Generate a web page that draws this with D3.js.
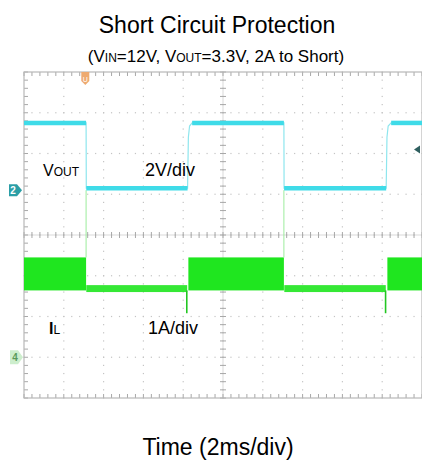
<!DOCTYPE html>
<html>
<head>
<meta charset="utf-8">
<script src="https://cdn.jsdelivr.net/npm/d3@7"></script>
<style>
  html, body { margin: 0; padding: 0; background: #fff; }
  svg text { font-family: "Liberation Sans", Arial, sans-serif; fill: #000; }
</style>
</head>
<body>
<svg id="chart" width="422" height="461"></svg>
<script>
// time in ms (2 ms/div), Vout in V (2 V/div), IL in A (1 A/div)
const voutTime = [0, 3.12, 3.13, 8.22, 8.26, 8.32, 8.45, 13.06, 13.07, 18.2, 18.24, 18.3, 18.45, 20];
const voutVal  = [3.3, 3.3, 0.1, 0.1, 2.6, 3.15, 3.3, 3.3, 0.1, 0.1, 2.6, 3.15, 3.3, 3.3];

// inductor current envelope (switching ripple band) while running
const ilRunTime = [[0, 3.12], [8.26, 13.06], [18.26, 20]];
const ilRunHigh = 2.45;
const ilRunLow = 1.64;

// inductor current during short (hiccup)
const ilShortTime = [3.13, 8.2, 13.08, 18.18];
const ilShortHigh = [1.77, 1.78, 1.77, 1.78];
const ilShortLow = [1.6, 1.6, 1.6, 1.6];
const ilSpikeTime = [8.18, 18.17];
const ilSpikeMin = [1.08, 1.08];
const ilStepTime = [3.12, 13.06];
const ilStepMax = [4.1, 4.1];

const voutOffsetDiv = 1.1;   // ch2 ground marker
const ilOffsetDiv = -3;      // ch4 ground marker

const svg = d3.select('#chart');
const pLeft = 24, pRight = 422, pTop = 72, pBottom = 398;

const x = d3.scaleLinear().domain([0, 20]).range([pLeft, pRight]);
const y = d3.scaleLinear().domain([-4, 4]).range([pBottom, pTop]);
const yV = (v) => y(v / 2 + voutOffsetDiv);
const yI = (a) => y(a / 1 + ilOffsetDiv);

// titles
svg.append('text').attr('x', 217).attr('y', 33).attr('text-anchor', 'middle')
  .style('font-size', '23px').text('Short Circuit Protection');

const sub = svg.append('text').attr('x', 216).attr('y', 62).attr('text-anchor', 'middle')
  .style('font-size', '17px');
sub.append('tspan').text('(V');
sub.append('tspan').style('font-size', '12px').text('IN');
sub.append('tspan').text('=12V, V');
sub.append('tspan').style('font-size', '12px').text('OUT');
sub.append('tspan').text('=3.3V, 2A to Short)');

svg.append('text').attr('x', 218).attr('y', 455).attr('text-anchor', 'middle')
  .style('font-size', '23px').text('Time (2ms/div)');

// grid
const grid = svg.append('g');
const xTicks = d3.range(0, 20.01, 2);
const yTicks = d3.range(-4, 4.01, 1);
const xMinor = d3.range(0, 20.01, 0.4);
const yMinor = d3.range(-4, 4.01, 0.2);

xTicks.slice(1, -1).forEach((t) => {
  grid.selectAll(null).data(yMinor).join('rect')
    .attr('x', x(t) - 0.6).attr('y', (d) => y(d) - 0.6)
    .attr('width', 1.2).attr('height', 1.2).attr('fill', '#c4c4c4');
});
yTicks.slice(1, -1).forEach((d) => {
  grid.selectAll(null).data(xMinor).join('rect')
    .attr('x', (t) => x(t) - 0.6).attr('y', y(d) - 0.6)
    .attr('width', 1.2).attr('height', 1.2).attr('fill', '#c4c4c4');
});

// centre cross and frame with minor ticks
grid.append('line').attr('x1', x(10)).attr('x2', x(10)).attr('y1', pTop).attr('y2', pBottom)
  .attr('stroke', '#cfcfcf').attr('stroke-width', 0.8);
grid.append('line').attr('x1', pLeft).attr('x2', pRight).attr('y1', y(0)).attr('y2', y(0))
  .attr('stroke', '#cfcfcf').attr('stroke-width', 0.8);
grid.selectAll(null).data(xMinor).join('line')
  .attr('x1', (t) => x(t)).attr('x2', (t) => x(t))
  .attr('y1', y(0) - 3).attr('y2', y(0) + 3).attr('stroke', '#a8a8a8');
grid.selectAll(null).data(yMinor).join('line')
  .attr('x1', x(10) - 3).attr('x2', x(10) + 3)
  .attr('y1', (d) => y(d)).attr('y2', (d) => y(d)).attr('stroke', '#a8a8a8');
grid.selectAll(null).data(xMinor).join('line')
  .attr('x1', (t) => x(t)).attr('x2', (t) => x(t))
  .attr('y1', pTop).attr('y2', pTop + 4).attr('stroke', '#a8a8a8');
grid.selectAll(null).data(xMinor).join('line')
  .attr('x1', (t) => x(t)).attr('x2', (t) => x(t))
  .attr('y1', pBottom - 4).attr('y2', pBottom).attr('stroke', '#a8a8a8');
grid.selectAll(null).data(yMinor).join('line')
  .attr('x1', pLeft).attr('x2', pLeft + 4)
  .attr('y1', (d) => y(d)).attr('y2', (d) => y(d)).attr('stroke', '#a8a8a8');
grid.append('rect').attr('x', pLeft).attr('y', pTop)
  .attr('width', pRight - pLeft).attr('height', pBottom - pTop)
  .attr('fill', 'none').attr('stroke', '#b8b8b8').attr('stroke-width', 1.2);

// inductor current
const green = '#1fe61f';
const il = svg.append('g');
ilRunTime.forEach(([t0, t1]) => {
  il.append('rect').attr('x', x(t0)).attr('width', x(t1) - x(t0))
    .attr('y', yI(ilRunHigh)).attr('height', yI(ilRunLow) - yI(ilRunHigh))
    .attr('fill', green);
});
ilShortTime.reduce((acc, t, i) => (i % 2 ? acc : acc.concat([[t, ilShortTime[i + 1], i]])), [])
  .forEach(([t0, t1, i]) => {
    il.append('rect').attr('x', x(t0)).attr('width', x(t1) - x(t0))
      .attr('y', yI(ilShortHigh[i])).attr('height', yI(ilShortLow[i]) - yI(ilShortHigh[i]))
      .attr('fill', green).attr('opacity', 0.9);
  });
il.selectAll(null).data(ilSpikeTime).join('line')
  .attr('x1', (t) => x(t)).attr('x2', (t) => x(t))
  .attr('y1', yI(ilRunLow)).attr('y2', (t, i) => yI(ilSpikeMin[i]))
  .attr('stroke', '#22c622').attr('stroke-width', 1.6);
il.selectAll(null).data(ilStepTime).join('line')
  .attr('x1', (t) => x(t)).attr('x2', (t) => x(t))
  .attr('y1', yI(ilRunHigh)).attr('y2', (t, i) => yI(ilStepMax[i]))
  .attr('stroke', '#9cec9c').attr('stroke-width', 1);

// output voltage
const line = d3.line().x((d) => x(d[0])).y((d) => yV(d[1]));
const voutPts = voutTime.map((t, i) => [t, voutVal[i]]);
svg.append('path').attr('d', line(voutPts))
  .attr('fill', 'none').attr('stroke', '#8ee6ee').attr('stroke-width', 1.2);
// flat levels drawn heavier like the scope trace
const flats = voutPts.slice(0, -1).map((p, i) => [p, voutPts[i + 1]])
  .filter(([a, b]) => a[1] === b[1]);
svg.selectAll(null).data(flats).join('line')
  .attr('x1', (d) => x(d[0][0])).attr('x2', (d) => x(d[1][0]))
  .attr('y1', (d) => yV(d[0][1])).attr('y2', (d) => yV(d[1][1]))
  .attr('stroke', '#3fdbe8').attr('stroke-width', 4.5);

// channel labels
const vl = svg.append('text').attr('x', 43).attr('y', 176).style('font-size', '16px');
vl.append('tspan').text('V');
vl.append('tspan').style('font-size', '12px').text('OUT');
svg.append('text').attr('x', 145).attr('y', 176).style('font-size', '18px').text('2V/div');
const il2 = svg.append('text').attr('x', 49).attr('y', 334).style('font-size', '16px');
il2.append('tspan').style('font-weight', 'bold').text('I');
il2.append('tspan').style('font-size', '12px').text('L');
svg.append('text').attr('x', 148).attr('y', 334).style('font-size', '18px').text('1A/div');

// scope markers
const m2 = svg.append('g').attr('transform', `translate(0,${yV(0)})`);
m2.append('path').attr('d', 'M9,-6 L17,-6 L22,0 L17,6 L9,6 Z').attr('fill', '#2b9ea6');
m2.append('text').attr('x', 13).attr('y', 4).attr('text-anchor', 'middle')
  .style('font-size', '10px').style('font-weight', 'bold').style('fill', '#fff').text('2');
const m4 = svg.append('g').attr('transform', `translate(0,${yI(0)})`);
m4.append('path').attr('d', 'M10,-7 L18,-7 L23,0 L18,7 L10,7 Z').attr('fill', '#cdeecd');
m4.append('text').attr('x', 15).attr('y', 4).attr('text-anchor', 'middle')
  .style('font-size', '10px').style('font-weight', 'bold').style('fill', '#5a9a5a').text('4');
const mt = svg.append('g').attr('transform', `translate(${x(3.08)},${pTop})`);
mt.append('path').attr('d', 'M-4,0 L4,0 L4,9 L0,13 L-4,9 Z').attr('fill', '#eeaa70');
mt.append('text').attr('x', 0).attr('y', 10).attr('text-anchor', 'middle')
  .style('font-size', '7px').style('fill', '#fff').text('U');
svg.append('path').attr('transform', `translate(${pRight - 4},${y(2.1)})`)
  .attr('d', 'M-4,0 L2,-4 L2,4 Z').attr('fill', '#2f5f5f');
</script>
</body>
</html>
